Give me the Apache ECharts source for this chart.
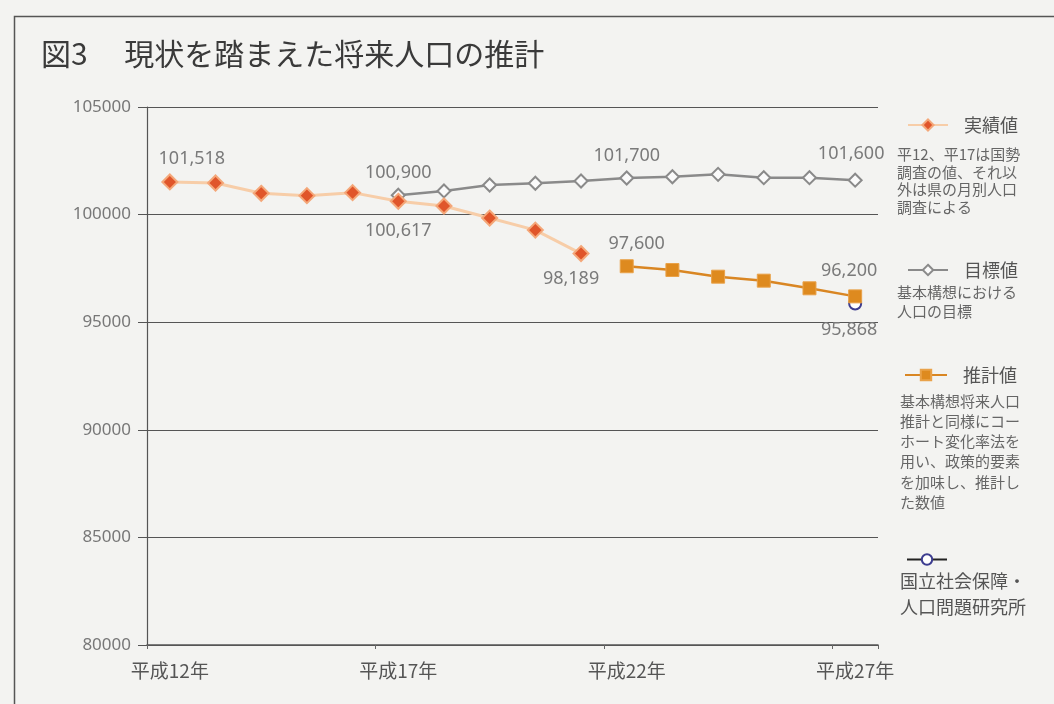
<!DOCTYPE html>
<html><head><meta charset="utf-8">
<script src="https://cdn.jsdelivr.net/npm/echarts@6/dist/echarts.min.js"></script>
<style>html,body{margin:0;padding:0;background:#f3f3f1;}#c{width:1054px;height:704px;}</style>
</head><body><div id="c"></div>
<script>
const categories = ['平成12年','平成13年','平成14年','平成15年','平成16年','平成17年','平成18年','平成19年','平成20年','平成21年','平成22年','平成23年','平成24年','平成25年','平成26年','平成27年'];
const actual   = [101518,101470,100990,100880,101020,100617,100400,99840,99280,98189,null,null,null,null,null,null];
const target   = [null,null,null,null,null,100900,101100,101375,101455,101560,101700,101760,101870,101715,101715,101600];
const estimate = [null,null,null,null,null,null,null,null,null,null,97600,97425,97115,96930,96575,96200];
const ipss     = [null,null,null,null,null,null,null,null,null,null,null,null,null,null,null,95868];
const yTicks = { min: 80000, max: 105000, interval: 5000 };
const seriesNames = ['実績値','目標値','推計値','国立社会保障・人口問題研究所'];
const notes = {
  actual: '平12、平17は国勢\n調査の値、それ以\n外は県の月別人口\n調査による',
  target: '基本構想における\n人口の目標',
  estimate: '基本構想将来人口\n推計と同様にコー\nホート変化率法を\n用い、政策的要素\nを加味し、推計し\nた数値',
  ipss: '国立社会保障・\n人口問題研究所'
};

const fmt = v => v.toLocaleString('en-US');
const labelBase = { show: true, color: '#7a7a7a', fontSize: 18, fontFamily: 'Noto Sans', formatter: p => fmt(p.value) };
function withLabels(arr, cfg) {
  return arr.map((v, i) => {
    if (v === null) return null;
    if (cfg[i]) return { value: v, label: Object.assign({}, labelBase, cfg[i]) };
    return v;
  });
}

const chart = echarts.init(document.getElementById('c'));
const FF = '"Noto Sans CJK JP", "Noto Sans", sans-serif';
const legendText = { color: '#555', fontSize: 18, padding: [0,0,0,11], fontFamily: FF };
chart.setOption({
  backgroundColor: '#f3f3f1',
  animation: false,
  textStyle: { fontFamily: FF },
  title: { text: '図3\u3000 現状を踏まえた将来人口の推計', left: 36, top: 34, textStyle: { fontSize: 30, fontWeight: 'normal', color: '#3a3a3a', fontFamily: FF } },
  grid: { left: 147, right: 176, top: 107, bottom: 59 },
  xAxis: {
    type: 'category', data: categories, boundaryGap: true,
    axisLine: { lineStyle: { color: '#555', width: 1.5 } },
    axisTick: { show: true, length: 4, lineStyle: { color: '#666' } },
    axisLabel: { interval: 4, color: '#555', fontSize: 19, margin: 16, fontFamily: FF }
  },
  yAxis: {
    type: 'value', min: yTicks.min, max: yTicks.max, interval: yTicks.interval,
    axisLine: { show: true, lineStyle: { color: '#555', width: 1.2 } },
    axisTick: { show: true, length: 9, lineStyle: { color: '#555' } },
    axisLabel: { color: '#777', fontSize: 17, margin: 16, fontFamily: 'Noto Sans', formatter: v => String(v) },
    splitLine: { lineStyle: { color: '#555', width: 1.2 } }
  },
  legend: [
    { data: [seriesNames[0]], left: 902, top: 111, itemWidth: 40, itemHeight: 14, textStyle: legendText },
    { data: [seriesNames[1]], left: 902, top: 256, itemWidth: 40, itemHeight: 13, textStyle: legendText },
    { data: [seriesNames[2]], left: 899, top: 361, itemWidth: 42, itemHeight: 13, textStyle: legendText },
    { data: [seriesNames[3]], left: 901, top: 548, itemWidth: 40, itemHeight: 13, formatter: () => '', textStyle: { fontSize: 1 } }
  ],
  graphic: [
    { type: 'rect', left: 12, top: 14, shape: { width: 1060, height: 720 }, style: { fill: 'none', stroke: '#555', lineWidth: 1.5 }, silent: true },
    { type: 'text', left: 897, top: 146, style: { text: notes.actual, fill: '#666', fontSize: 15, lineHeight: 17.5, fontFamily: FF } },
    { type: 'text', left: 897, top: 283, style: { text: notes.target, fill: '#666', fontSize: 15, lineHeight: 19, fontFamily: FF } },
    { type: 'text', left: 900, top: 391, style: { text: notes.estimate, fill: '#666', fontSize: 15, lineHeight: 20.2, fontFamily: FF } },
    { type: 'text', left: 900, top: 568, style: { text: notes.ipss, fill: '#555', fontSize: 18, lineHeight: 26, fontFamily: FF } }
  ],
  series: [
    {
      name: seriesNames[1], type: 'line', z: 2,
      data: withLabels(target, {
        5: { position: 'top', distance: 6 },
        10: { position: 'top', distance: 6 },
        15: { position: 'top', distance: 10, offset: [-4, 0] }
      }),
      symbol: 'diamond', symbolSize: 13,
      lineStyle: { color: '#8a8a8a', width: 2.5 },
      itemStyle: { color: '#fafafa', borderColor: '#8a8a8a', borderWidth: 2 }
    },
    {
      name: seriesNames[0], type: 'line', z: 3,
      data: withLabels(actual, {
        0: { position: 'top', distance: 6, offset: [22, 0] },
        5: { position: 'bottom', distance: 12 },
        9: { position: 'bottom', distance: 8, offset: [-10, 0] }
      }),
      symbol: 'diamond', symbolSize: 15,
      lineStyle: { color: '#f7cda8', width: 3 },
      itemStyle: { color: '#e0552a', borderColor: '#f4a779', borderWidth: 2 }
    },
    {
      name: seriesNames[2], type: 'line', z: 3,
      data: withLabels(estimate, {
        10: { position: 'top', distance: 6, offset: [10, 0] },
        15: { position: 'top', distance: 10, offset: [-6, 0] }
      }),
      symbol: 'rect', symbolSize: 13,
      lineStyle: { color: '#d98623', width: 2.5 },
      itemStyle: { color: '#de8a1f', borderColor: '#e9a24a', borderWidth: 1 }
    },
    {
      name: seriesNames[3], type: 'line', z: 2,
      data: withLabels(ipss, {
        15: { position: 'bottom', distance: 10, offset: [-6, 0] }
      }),
      symbol: 'circle', symbolSize: 12,
      lineStyle: { color: '#222', width: 2.5 },
      itemStyle: { color: '#ffffff', borderColor: '#3d3d90', borderWidth: 2 }
    }
  ]
});
</script></body></html>
